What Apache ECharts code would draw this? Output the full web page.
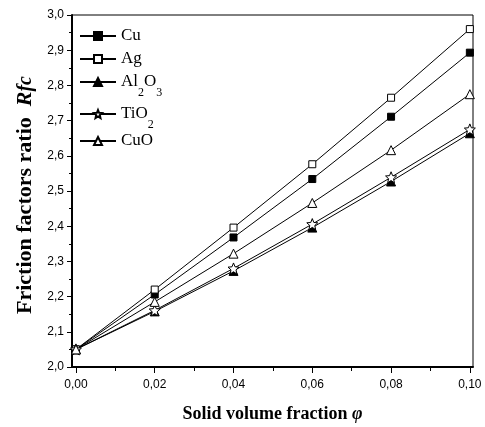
<!DOCTYPE html>
<html><head><meta charset="utf-8">
<script src="https://cdn.jsdelivr.net/npm/echarts@6/dist/echarts.min.js"></script>
<style>html,body{margin:0;padding:0;background:#fff}#c{width:485px;height:427px}</style>
</head><body><div id="c"></div>
<script>
const phi = [0, 0.02, 0.04, 0.06, 0.08, 0.10];
const cu = [2.05, 2.206, 2.368, 2.534, 2.711, 2.893];
const ag = [2.05, 2.220, 2.396, 2.576, 2.765, 2.960];
const al2o3 = [2.05, 2.158, 2.273, 2.396, 2.527, 2.664];
const tio2 = [2.05, 2.161, 2.280, 2.406, 2.539, 2.675];
const cuo = [2.05, 2.185, 2.322, 2.466, 2.616, 2.775];
const xTicks = [0, 0.02, 0.04, 0.06, 0.08, 0.10];
const xMinorTicks = [0.01, 0.03, 0.05, 0.07, 0.09];
const seriesNames = ['Cu', 'Ag', 'Al2O3', 'TiO2', 'CuO'];

const STAR = 'path://M50,0 L63.23,31.8 L97.55,34.55 L71.4,56.95 L79.39,90.45 L50,72.5 L20.61,90.45 L28.6,56.95 L2.45,34.55 L36.77,31.8 Z';
const serif = '"Liberation Serif", "Times New Roman", serif';
const sans = '"Liberation Sans", Arial, sans-serif';

const styles = {
  'Cu':    {symbol: 'rect', size: 7, fill: '#000'},
  'Ag':    {symbol: 'rect', size: 7, fill: '#fff'},
  'Al2O3': {symbol: 'triangle', size: 9, fill: '#000'},
  'TiO2':  {symbol: STAR, size: 11, fill: '#fff'},
  'CuO':   {symbol: 'triangle', size: 9, fill: '#fff'}
};
const values = {'Cu': cu, 'Ag': ag, 'Al2O3': al2o3, 'TiO2': tio2, 'CuO': cuo};

const series = seriesNames.map(n => ({
  name: n, type: 'line',
  data: phi.map((x, i) => [x, values[n][i]]),
  symbol: styles[n].symbol, symbolSize: styles[n].size,
  itemStyle: {color: styles[n].fill, borderColor: '#000', borderWidth: 1},
  lineStyle: {color: '#000', width: 1},
  emphasis: {disabled: true},
  clip: false
}));

const legendTops = [19, 42, 65, 97, 124];
const legends = seriesNames.map((n, i) => ({
  data: [n], orient: 'vertical', left: 79, top: legendTops[i], padding: 0,
  itemWidth: 36, itemHeight: 10, selectedMode: false,
  formatter: name => name.replace(/(\d)/g, '{sub|$1}'),
  textStyle: {
    fontFamily: serif, fontSize: 17, color: '#000', lineHeight: 34,
    rich: {sub: {fontFamily: serif, fontSize: 12, color: '#000', lineHeight: 12, verticalAlign: 'bottom'}}
  }
}));

const chart = echarts.init(document.getElementById('c'), null, {renderer: 'canvas'});
chart.setOption({
  animation: false,
  backgroundColor: '#fff',
  grid: {left: 72, right: 12, top: 15, bottom: 60, outerBoundsMode: 'none', containLabel: false,
    show: true, borderColor: '#000', borderWidth: 1, backgroundColor: 'transparent'},
  legend: legends,
  xAxis: [{
    type: 'value', min: -0.001, max: 0.1008, position: 'bottom',
    axisLine: {show: true, onZero: false, lineStyle: {color: '#000', width: 2}},
    axisTick: {show: true, inside: false, length: 6, customValues: xTicks, lineStyle: {color: '#000', width: 1}},
    axisLabel: {customValues: xTicks, formatter: v => v.toFixed(2).replace('.', ','), fontFamily: sans, fontSize: 12, color: '#000', margin: 12},
    splitLine: {show: false},
    name: 'Solid volume fraction {phi|φ}', nameLocation: 'middle', nameGap: 38,
    nameTextStyle: {fontFamily: serif, fontSize: 18, fontWeight: 'bold', color: '#000',
      rich: {phi: {fontFamily: serif, fontSize: 18, fontWeight: 'bold', fontStyle: 'italic', color: '#000'}}}
  }, {
    type: 'value', min: -0.001, max: 0.1008, position: 'bottom', offset: 0,
    axisLine: {show: false},
    axisTick: {show: true, inside: false, length: 4, customValues: xMinorTicks, lineStyle: {color: '#000', width: 1}},
    axisLabel: {show: false},
    splitLine: {show: false}
  }],
  yAxis: {
    type: 'value', min: 2, max: 3, interval: 0.1,
    axisLine: {show: true, onZero: false, lineStyle: {color: '#000', width: 2}},
    axisTick: {show: true, inside: false, length: 5, lineStyle: {color: '#000', width: 1}},
    minorTick: {show: true, splitNumber: 2, length: 3, lineStyle: {color: '#000', width: 1}},
    axisLabel: {formatter: v => v.toFixed(1).replace('.', ','), fontFamily: sans, fontSize: 12, color: '#000', margin: 8},
    splitLine: {show: false},
    name: 'Friction factors ratio  {it|R}{its|fc}', nameLocation: 'middle', nameGap: 16,
    nameTextStyle: {fontFamily: serif, fontSize: 22, fontWeight: 'bold', color: '#000', padding: [0, 8, 0, 0],
      rich: {
        it: {fontFamily: serif, fontSize: 22, fontWeight: 'bold', fontStyle: 'italic', color: '#000'},
        its: {fontFamily: serif, fontSize: 20, fontWeight: 'bold', fontStyle: 'italic', color: '#000'}
      }}
  },
  series: series
});
</script>
</body></html>
